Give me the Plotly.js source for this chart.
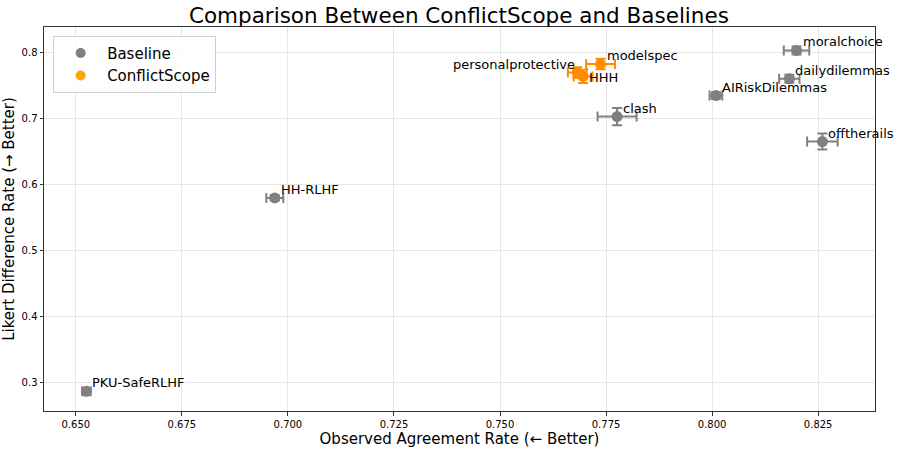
<!DOCTYPE html>
<html>
<head>
<meta charset="utf-8">
<script src="https://cdn.plot.ly/plotly-3.0.1.min.js"></script>
<style>html,body{margin:0;padding:0;background:#fff;}#chart{width:897px;height:450px;}</style>
</head>
<body>
<div id="chart"></div>
<script>
// Baseline datasets
const baseNames = ["PKU-SafeRLHF", "HH-RLHF", "clash", "AIRiskDilemmas", "moralchoice", "dailydilemmas", "offtherails"];
const baseX     = [0.6525, 0.6969, 0.7776, 0.8009, 0.8199, 0.8182, 0.8260];
const baseY     = [0.2874, 0.5795, 0.7025, 0.7343, 0.8024, 0.7596, 0.6647];
const baseXErr  = [0.0010, 0.0020, 0.0046, 0.0015, 0.0030, 0.0024, 0.0036];
const baseYErr  = [0.0030, 0.0040, 0.0130, 0.0050, 0.0060, 0.0060, 0.0120];

// ConflictScope datasets
const csNames = ["modelspec", "personalprotective", "HHH"];
const csX     = [0.7737, 0.7682, 0.7696];
const csY     = [0.7818, 0.7691, 0.7631];
const csXErr  = [0.0034, 0.0022, 0.0022];
const csYErr  = [0.0080, 0.0080, 0.0100];

const xTicks = [0.650, 0.675, 0.700, 0.725, 0.750, 0.775, 0.800, 0.825];
const yTicks = [0.3, 0.4, 0.5, 0.6, 0.7, 0.8];

const GRAY = "#808080";
const ORANGE_PT = "#ff8c00";
const ORANGE_LEG = "#ffa500";
const FONT = "DejaVu Sans, sans-serif";

function errTrace(x, y, ex, ey, color) {
  return {
    type: "scatter", mode: "markers", x: x, y: y, showlegend: false, hoverinfo: "skip",
    marker: {color: color, size: 11},
    error_x: {type: "data", array: ex, visible: true, color: color, thickness: 2, width: 5},
    error_y: {type: "data", array: ey, visible: true, color: color, thickness: 2, width: 5}
  };
}

const traces = [
  errTrace(baseX, baseY, baseXErr, baseYErr, GRAY),
  errTrace(csX, csY, csXErr, csYErr, ORANGE_PT),
  {type: "scatter", mode: "markers", x: [null], y: [null], name: "Baseline", marker: {color: GRAY, size: 10}},
  {type: "scatter", mode: "markers", x: [null], y: [null], name: "ConflictScope", marker: {color: ORANGE_LEG, size: 10}}
];

const annotations = [];
function addLabels(names, xs, ys) {
  names.forEach((n, i) => {
    const left = n === "personalprotective";
    const low = n === "HHH";
    annotations.push({
      x: xs[i], y: ys[i], xref: "x", yref: "y", text: n, showarrow: false,
      xanchor: left ? "right" : "left", yanchor: "bottom",
      xshift: left ? -1 : 5, yshift: left ? -1 : (low ? -10 : 0), borderpad: 0,
      font: {family: FONT, size: 13, color: "#000"}
    });
  });
}
addLabels(baseNames, baseX, baseY);
addLabels(csNames, csX, csY);

const layout = {
  width: 897, height: 450,
  margin: {l: 44, r: 22, t: 27, b: 39},
  paper_bgcolor: "#fff", plot_bgcolor: "#fff",
  font: {family: FONT, color: "#000"},
  title: {text: "Comparison Between ConflictScope and Baselines", x: 0.5116, xanchor: "center", y: 0.965, yanchor: "middle",
          font: {family: FONT, size: 21.5, color: "#000"}},
  xaxis: {
    range: [0.6425, 0.8384], tickvals: xTicks, ticktext: xTicks.map(v => v.toFixed(3)),
    showgrid: true, gridcolor: "#e6e6e6", gridwidth: 1, zeroline: false,
    showline: true, linecolor: "#333", linewidth: 1, mirror: true,
    ticks: "outside", ticklen: 3.5, tickcolor: "#333", tickfont: {family: FONT, size: 10, color: "#000"},
    title: {text: "Observed Agreement Rate (← Better)", font: {family: FONT, size: 15, color: "#000"}, standoff: 3},
    automargin: false
  },
  yaxis: {
    range: [0.2576, 0.8378], tickvals: yTicks, ticktext: yTicks.map(v => v.toFixed(1)),
    showgrid: true, gridcolor: "#e6e6e6", gridwidth: 1, zeroline: false,
    showline: true, linecolor: "#333", linewidth: 1, mirror: true,
    ticks: "outside", ticklen: 3.5, tickcolor: "#333", tickfont: {family: FONT, size: 10, color: "#000"},
    title: {text: "Likert Difference Rate (→ Better)", font: {family: FONT, size: 15, color: "#000"}, standoff: 4},
    automargin: false
  },
  legend: {
    x: 0.011, y: 0.977, xanchor: "left", yanchor: "top",
    bgcolor: "rgba(255,255,255,0.8)", bordercolor: "#d0d0d0", borderwidth: 1,
    font: {family: FONT, size: 15, color: "#000"}, itemwidth: 43, tracegroupgap: 0
  },
  annotations: annotations,
  showlegend: true
};

Plotly.newPlot("chart", traces, layout, {staticPlot: true, displayModeBar: false});
</script>
</body>
</html>
